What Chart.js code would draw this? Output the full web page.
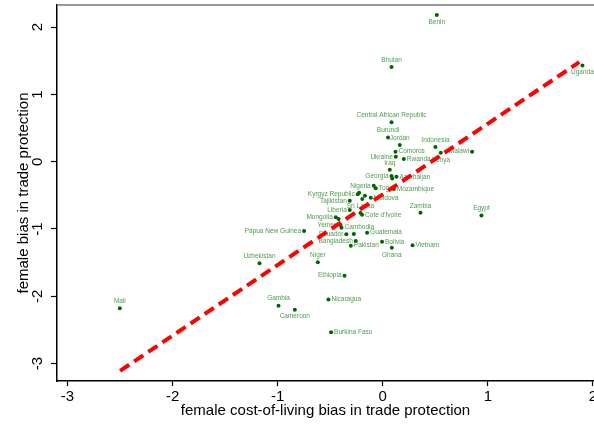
<!DOCTYPE html>
<html>
<head>
<meta charset="utf-8">
<script src="https://cdn.jsdelivr.net/npm/chart.js@4/dist/chart.umd.min.js"></script>
<style>
  html, body { margin: 0; padding: 0; background: #fff; }
</style>
</head>
<body>
<canvas id="c" width="594" height="428"></canvas>
<script>
// countries and their values
const countries = ['Benin', 'Bhutan', 'Uganda', 'Mali', 'Central African Republic', 'Burundi', 'Jordan',
  'Comoros', 'Ukraine', 'Rwanda', 'Indonesia', 'Kenya', 'Malawi', 'Iraq', 'Georgia', 'Azerbaijan',
  'Nigeria', 'Togo', 'Mozambique', 'Kyrgyz Republic', 'Moldova', 'Tajikistan', 'Liberia', 'Sri Lanka',
  "Cote d'Ivoire", 'Mongolia', 'Yemen', 'Cambodia', 'Ecuador', 'Guatemala', 'Bangladesh', 'Pakistan',
  'Bolivia', 'Ghana', 'Vietnam', 'Zambia', 'Egypt', 'Papua New Guinea', 'Uzbekistan', 'Niger',
  'Ethiopia', 'Gambia', 'Cameroon', 'Nicaragua', 'Burkina Faso', '', '', '', '', '', ''];
const costBias = [0.514, 0.083, 1.90, -2.502, 0.083, 0.05, 0.162,
  0.121, 0.124, 0.20, 0.501, 0.552, 0.85, 0.067, 0.083, 0.13,
  -0.086, -0.067, 0.105, -0.238, -0.114, -0.314, -0.314, -0.212,
  -0.197, -0.447, -0.402, -0.393, -0.347, -0.149, -0.257, -0.304,
  -0.007, 0.086, 0.283, 0.359, 0.939, -0.749, -1.173, -0.618,
  -0.364, -0.992, -0.837, -0.517, -0.492, 0.09, -0.225, -0.17, -0.195, -0.42, -0.275];
const tradeBias = [2.18, 1.41, 1.43, -2.18, 0.585, 0.36, 0.248,
  0.149, 0.074, 0.04, 0.22, 0.134, 0.149, -0.12, -0.214, -0.223,
  -0.357, -0.395, -0.406, -0.485, -0.535, -0.58, -0.718, -0.762,
  -0.79, -0.826, -0.94, -0.98, -1.08, -1.055, -1.178, -1.248,
  -1.19, -1.28, -1.243, -0.758, -0.80, -1.03, -1.51, -1.495,
  -1.694, -2.14, -2.2, -2.05, -2.535, -0.25, -0.46, -0.505, -0.554, -0.85, -1.075];

// fitted line ends
const fitX = [-2.5, 1.87];
const fitY = [-3.11, 1.48];

// where each marker label sits (t = above, b = below, l = left, r = right)
const labelSide = {
  'Benin': 'b', 'Uganda': 'b', 'Kenya': 'b', 'Ghana': 'b', 'Cameroon': 'b',
  'Comoros': 'r', 'Rwanda': 'r', 'Azerbaijan': 'r', 'Togo': 'r', 'Mozambique': 'r', 'Moldova': 'r',
  "Cote d'Ivoire": 'r', 'Cambodia': 'r', 'Guatemala': 'r', 'Pakistan': 'r', 'Bolivia': 'r',
  'Vietnam': 'r', 'Nicaragua': 'r', 'Burkina Faso': 'r',
  'Ukraine': 'l', 'Malawi': 'l', 'Georgia': 'l', 'Nigeria': 'l', 'Kyrgyz Republic': 'l',
  'Tajikistan': 'l', 'Liberia': 'l', 'Mongolia': 'l', 'Yemen': 'l', 'Ecuador': 'l',
  'Bangladesh': 'l', 'Papua New Guinea': 'l', 'Ethiopia': 'l'
};

const points = costBias.map((v, i) => ({ x: v, y: tradeBias[i] }));
const FONT = '"Liberation Sans", Arial, sans-serif';

// labels next to the markers, drawn before the red line
const markerLabels = {
  id: 'markerLabels',
  afterDatasetDraw(chart, args) {
    if (args.index !== 1) return;
    const ctx = chart.ctx;
    const meta = chart.getDatasetMeta(1);
    ctx.save();
    ctx.font = '6.5px ' + FONT;
    ctx.fillStyle = '#4f9a4f';
    meta.data.forEach((el, i) => {
      const name = countries[i];
      if (!name) return;
      const side = labelSide[name] || 't';
      let x = el.x, y = el.y;
      if (side === 't') { ctx.textAlign = 'center'; ctx.textBaseline = 'middle'; y -= 7; }
      else if (side === 'b') { ctx.textAlign = 'center'; ctx.textBaseline = 'middle'; y += 7; }
      else if (side === 'l') { ctx.textAlign = 'right'; ctx.textBaseline = 'middle'; x -= 3; }
      else { ctx.textAlign = 'left'; ctx.textBaseline = 'middle'; x += 3; }
      ctx.fillText(name, x, y);
    });
    ctx.restore();
  }
};

// vertical y tick labels and grey top frame line
const frame = {
  id: 'frame',
  afterDraw(chart) {
    const ctx = chart.ctx;
    const ys = chart.scales.y;
    const area = chart.chartArea;
    ctx.save();
    ctx.font = '15px ' + FONT;
    ctx.fillStyle = '#000';
    ctx.textAlign = 'center';
    ctx.textBaseline = 'middle';
    ys.ticks.forEach(t => {
      const py = ys.getPixelForValue(t.value);
      ctx.save();
      ctx.translate(38, py);
      ctx.rotate(-Math.PI / 2);
      ctx.fillText(String(t.value), 0, 0);
      ctx.restore();
    });
    ctx.strokeStyle = '#777';
    ctx.lineWidth = 1.5;
    ctx.beginPath();
    ctx.moveTo(area.left, area.top);
    ctx.lineTo(chart.width, area.top);
    ctx.stroke();
    ctx.restore();
  }
};

new Chart(document.getElementById('c'), {
  type: 'scatter',
  data: {
    datasets: [{
      type: 'line',
      data: fitX.map((v, i) => ({ x: v, y: fitY[i] })),
      borderColor: '#ff0000',
      borderWidth: 4,
      borderDash: [11, 6],
      pointRadius: 0,
      fill: false
    }, {
      data: points,
      backgroundColor: '#006400',
      borderWidth: 0,
      pointRadius: 2
    }]
  },
  options: {
    responsive: false,
    animation: false,
    layout: { autoPadding: false, padding: { top: 5, right: 0, left: 0, bottom: 0 } },
    plugins: { legend: { display: false }, tooltip: { enabled: false } },
    scales: {
      x: {
        type: 'linear',
        min: -3.1,
        max: 2.01,
        afterFit(s) { s.height = 47; s.paddingRight = 0; s.paddingLeft = 0; },
        afterBuildTicks(s) { s.ticks = [-3, -2, -1, 0, 1, 2].map(v => ({ value: v })); },
        ticks: { color: '#000', font: { family: FONT, size: 15 }, padding: 2, maxRotation: 0 },
        grid: { drawOnChartArea: false, tickLength: 5, color: '#000', tickWidth: 1.2 },
        border: { color: '#000', width: 1.5 },
        title: {
          display: true,
          text: 'female cost-of-living bias in trade protection',
          color: '#000',
          font: { family: FONT, size: 15 },
          padding: { top: 0, bottom: 8 }
        }
      },
      y: {
        type: 'linear',
        min: -3.26,
        max: 2.33,
        afterFit(s) { s.width = 57; s.paddingTop = 0; s.paddingBottom = 0; },
        afterBuildTicks(s) { s.ticks = [-3, -2, -1, 0, 1, 2].map(v => ({ value: v })); },
        ticks: { display: false },
        grid: { drawOnChartArea: false, tickLength: 6, color: '#000', tickWidth: 1.2 },
        border: { color: '#000', width: 1.5 },
        title: {
          display: true,
          text: 'female bias in trade protection',
          color: '#000',
          font: { family: FONT, size: 15 },
          padding: { top: 15, bottom: 0 }
        }
      }
    }
  },
  plugins: [markerLabels, frame]
});
</script>
</body>
</html>
